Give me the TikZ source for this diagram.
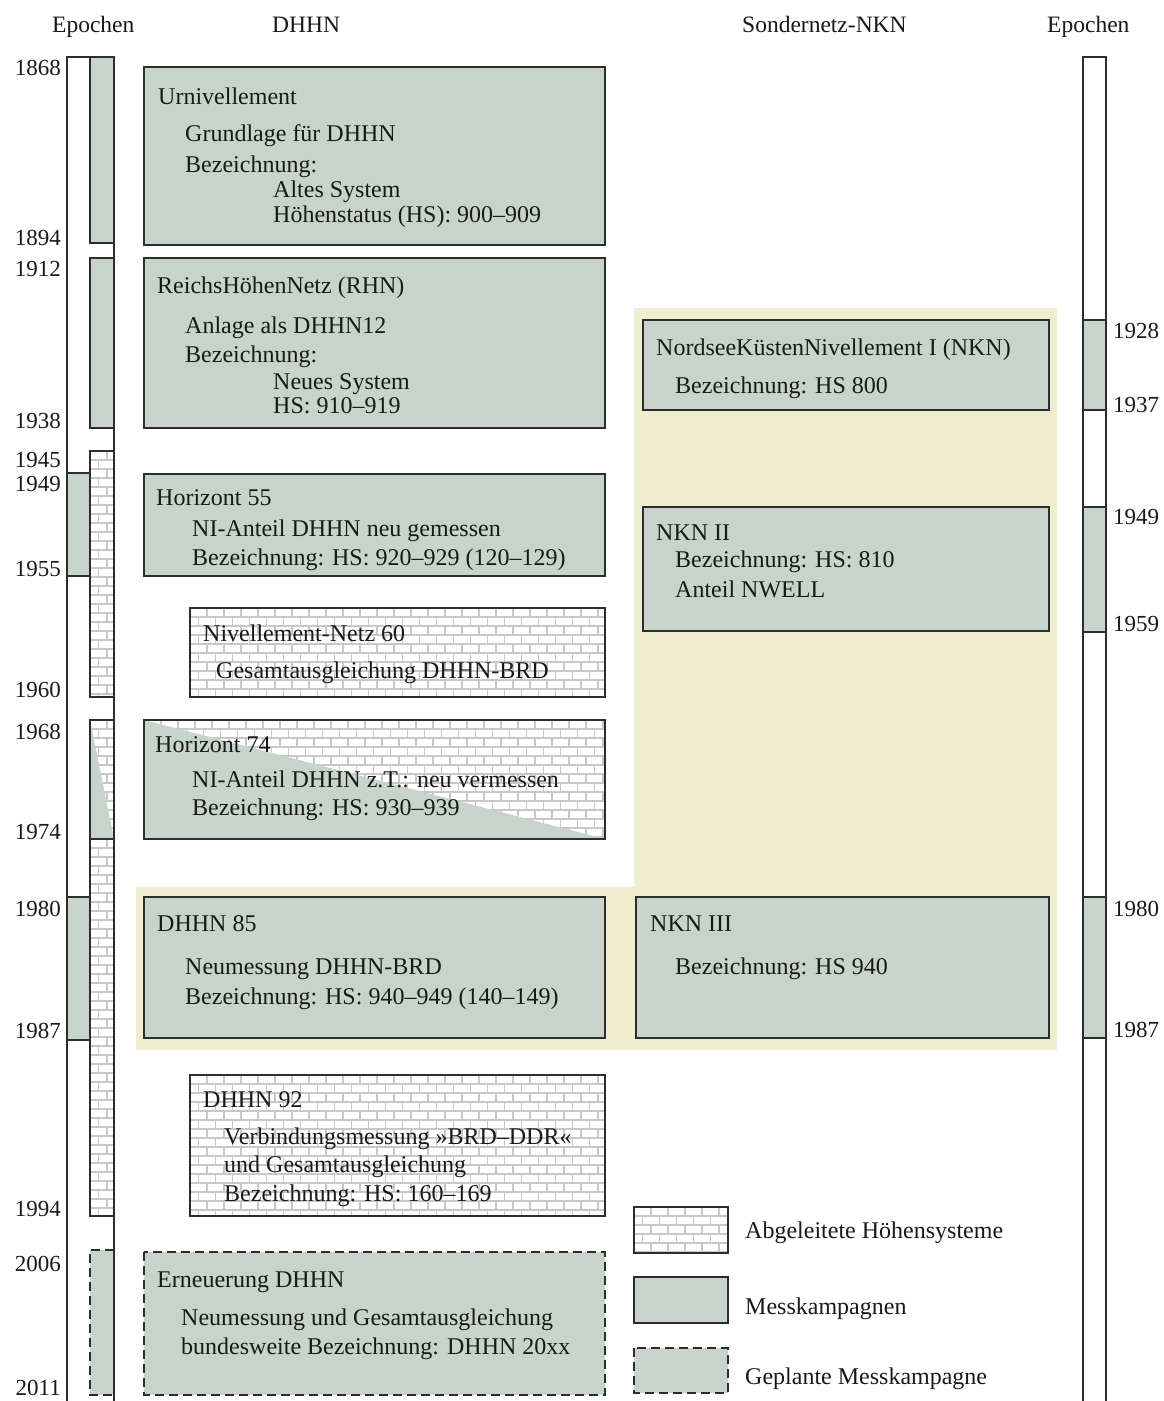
\documentclass[tikz,border=0pt]{standalone}
\usepackage{fontspec}
\setmainfont{Liberation Serif}
\definecolor{mk}{RGB}{198,212,204}
\definecolor{yel}{RGB}{240,238,208}
\definecolor{ln}{RGB}{45,45,45}
\definecolor{txtc}{RGB}{25,25,25}
\definecolor{mortar}{RGB}{200,200,200}
\newcommand{\brickfill}[4]{%
  \begin{scope}
    \clip (#1,#2) rectangle (#3,#4);
    \fill[white] (#1,#2) rectangle (#3,#4);
    \pgfmathtruncatemacro{\nr}{ceil((#4-#2)/9)}
    \pgfmathtruncatemacro{\nc}{ceil((#3-#1)/17)+1}
    \foreach \i in {0,...,\nr}{
      \pgfmathsetmacro{\yy}{#2+9*\i}
      \draw[brick] (#1,\yy) -- (#3,\yy);
      \foreach \j in {0,...,\nc}{
        \pgfmathsetmacro{\xx}{#1+17*\j-8.5*mod(\i,2)}
        \draw[brick] (\xx,\yy) -- (\xx,\yy+9);
      }
    }
  \end{scope}}
\begin{document}
\begin{tikzpicture}[x=1pt,y=-1pt,
  brick/.style={draw=mortar, line width=1.2pt},
  mkbox/.style={draw=ln, line width=1.5pt, fill=mk},
  plbox/.style={draw=ln, line width=1.5pt, fill=mk, dash pattern=on 9pt off 5pt},
  frame/.style={draw=ln, line width=1.5pt},
  txt/.style={anchor=base west, inner sep=0pt, text=txtc, font=\fontsize{24}{28}\selectfont},
  yrl/.style={anchor=base east, inner sep=0pt, text=txtc, font=\fontsize{23}{27}\selectfont},
  yrr/.style={anchor=base west, inner sep=0pt, text=txtc, font=\fontsize{23}{27}\selectfont},
  hdr/.style={anchor=base west, inner sep=0pt, text=txtc, font=\fontsize{23.5}{27}\selectfont}]
\useasboundingbox (0,0) rectangle (1164,1401);
\fill[white] (0,0) rectangle (1164,1401);

% yellow background (NKN special network)
\fill[yel] (634,308) -- (1057,308) -- (1057,1050) -- (136,1050) -- (136,887) -- (634,887) -- cycle;

% headers
\node[hdr] (h1) at (52,32) {Epochen};
\node[hdr] (h2) at (272,32) {DHHN};
\node[hdr] (h3) at (742,32) {Sondernetz-NKN};
\node[hdr] (h4) at (1047,32) {Epochen};

% ---------- left timeline ----------
\fill[mk] (90,57) rectangle (114,243);
\fill[mk] (90,258) rectangle (114,428);
\brickfill{90}{451}{114}{697}
\fill[mk] (67,473) rectangle (90,576);
\brickfill{90}{720}{114}{839}
\fill[mk] (90,720) -- (114,839) -- (90,839) -- cycle;
\brickfill{90}{839}{114}{1216}
\fill[mk] (67,897) rectangle (90,1040);
\fill[mk] (90,1250) rectangle (114,1395);
\draw[frame] (90,57) rectangle (114,243);
\draw[frame] (90,258) rectangle (114,428);
\draw[frame] (90,451) rectangle (114,697);
\draw[frame] (67,473) rectangle (90,576);
\draw[frame] (90,720) rectangle (114,839);
\draw[frame] (90,839) rectangle (114,1216);
\draw[frame] (67,897) rectangle (90,1040);
\draw[frame, dash pattern=on 9pt off 5pt] (114,1250) -- (90,1250) -- (90,1395) -- (114,1395);
\draw[frame] (67,1401) -- (67,57) -- (114,57) -- (114,1401);

\node[yrl] (y1868) at (61,75) {1868};
\node[yrl] (y1894) at (61,245) {1894};
\node[yrl] (y1912) at (61,276) {1912};
\node[yrl] (y1938) at (61,428) {1938};
\node[yrl] (y1945) at (61,467) {1945};
\node[yrl] (y1949) at (61,491) {1949};
\node[yrl] (y1955) at (61,576) {1955};
\node[yrl] (y1960) at (61,697) {1960};
\node[yrl] (y1968) at (61,739) {1968};
\node[yrl] (y1974) at (61,839) {1974};
\node[yrl] (y1980) at (61,916) {1980};
\node[yrl] (y1987) at (61,1038) {1987};
\node[yrl] (y1994) at (61,1216) {1994};
\node[yrl] (y2006) at (61,1271) {2006};
\node[yrl] (y2011) at (61,1395) {2011};

% ---------- right timeline ----------
\fill[mk] (1083,320) rectangle (1106,410);
\fill[mk] (1083,507) rectangle (1106,632);
\fill[mk] (1083,897) rectangle (1106,1038);
\draw[frame] (1083,320) rectangle (1106,410);
\draw[frame] (1083,507) rectangle (1106,632);
\draw[frame] (1083,897) rectangle (1106,1038);
\draw[frame] (1083,1401) -- (1083,57) -- (1106,57) -- (1106,1401);

\node[yrr] (r1928) at (1113,338) {1928};
\node[yrr] (r1937) at (1113,412) {1937};
\node[yrr] (r1949) at (1113,524) {1949};
\node[yrr] (r1959) at (1113,631) {1959};
\node[yrr] (r1980) at (1113,916) {1980};
\node[yrr] (r1987) at (1113,1037) {1987};

% ---------- DHHN boxes ----------
\draw[mkbox] (144,67) rectangle (605,245);
\node[txt] (u0) at (158,104) {Urnivellement};
\node[txt] (u1) at (185,141) {Grundlage für DHHN};
\node[txt] (u2) at (185,172) {Bezeichnung:};
\node[txt] (u3) at (273,197) {Altes System};
\node[txt] (u4) at (273,222) {Höhenstatus (HS): 900–909};

\draw[mkbox] (144,258) rectangle (605,428);
\node[txt] (r0) at (157,293) {ReichsHöhenNetz (RHN)};
\node[txt] (r1) at (185,333) {Anlage als DHHN12};
\node[txt] (r2) at (185,362) {Bezeichnung:};
\node[txt] (r3) at (273,389) {Neues System};
\node[txt] (r4) at (273,413) {HS: 910–919};

\draw[mkbox] (144,474) rectangle (605,576);
\node[txt] (a0) at (156,505) {Horizont 55};
\node[txt] (a1) at (192,536) {NI-Anteil DHHN neu gemessen};
\node[txt] (a2) at (192,565) {Bezeichnung: HS: 920–929 (120–129)};

\brickfill{190}{608}{605}{697}
\draw[frame, line width=1.8pt] (190,608) rectangle (605,697);
\node[txt] (n0) at (203,641) {Nivellement-Netz 60};
\node[txt] (n1) at (216,678) {Gesamtausgleichung DHHN-BRD};

\brickfill{144}{720}{605}{839}
\fill[mk] (144,720) -- (605,839) -- (144,839) -- cycle;
\draw[frame] (144,720) rectangle (605,839);
\node[txt] (b0) at (155,752) {Horizont 74};
\node[txt] (b1) at (192,787) {NI-Anteil DHHN z.T.: neu vermessen};
\node[txt] (b2) at (192,815) {Bezeichnung: HS: 930–939};

\draw[mkbox] (144,897) rectangle (605,1038);
\node[txt] (d0) at (157,931) {DHHN 85};
\node[txt] (d1) at (185,974) {Neumessung DHHN-BRD};
\node[txt] (d2) at (185,1004) {Bezeichnung: HS: 940–949 (140–149)};

\brickfill{190}{1075}{605}{1216}
\draw[frame, line width=1.8pt] (190,1075) rectangle (605,1216);
\node[txt] (e0) at (203,1107) {DHHN 92};
\node[txt] (e1) at (224,1144) {Verbindungsmessung »BRD–DDR«};
\node[txt] (e2) at (224,1172) {und Gesamtausgleichung};
\node[txt] (e3) at (224,1201) {Bezeichnung: HS: 160–169};

\draw[plbox] (144,1252) rectangle (605,1395);
\node[txt] (f0) at (157,1287) {Erneuerung DHHN};
\node[txt] (f1) at (181,1325) {Neumessung und Gesamtausgleichung};
\node[txt] (f2) at (181,1354) {bundesweite Bezeichnung: DHHN 20xx};

% ---------- NKN boxes ----------
\draw[mkbox] (643,320) rectangle (1049,410);
\node[txt] (k0) at (656,355) {NordseeKüstenNivellement I (NKN)};
\node[txt] (k1) at (675,393) {Bezeichnung: HS 800};

\draw[mkbox] (643,507) rectangle (1049,631);
\node[txt] (m0) at (656,540) {NKN II};
\node[txt] (m1) at (675,567) {Bezeichnung: HS: 810};
\node[txt] (m2) at (675,597) {Anteil NWELL};

\draw[mkbox] (636,897) rectangle (1049,1038);
\node[txt] (p0) at (650,931) {NKN III};
\node[txt] (p1) at (675,974) {Bezeichnung: HS 940};

% ---------- legend ----------
\brickfill{634}{1207}{728}{1253}
\draw[frame, line width=1.8pt] (634,1207) rectangle (728,1253);
\node[txt] (l1) at (745,1238) {Abgeleitete Höhensysteme};
\draw[mkbox] (634,1277) rectangle (728,1323);
\node[txt] (l2) at (745,1314) {Messkampagnen};
\draw[plbox] (634,1348) rectangle (728,1393);
\node[txt] (l3) at (745,1384) {Geplante Messkampagne};
\end{tikzpicture}
\end{document}
